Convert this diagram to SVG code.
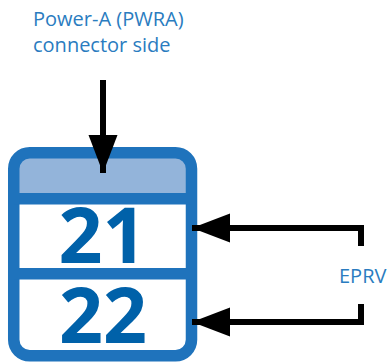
<svg xmlns="http://www.w3.org/2000/svg" width="387" height="362" viewBox="0 0 387 362">
<style>
.lbl{font-family:"Open Sans","Noto Sans",sans-serif;font-size:20px;fill:#2a7cc0}
.num{font-family:"Open Sans","Noto Sans",sans-serif;font-weight:bold;font-size:77px;fill:#0061a9;text-anchor:middle}
.ln{fill:none;stroke:#000;stroke-width:6}
.band{fill:#1f73bc}
</style>
<defs>
<marker id="ah" markerUnits="userSpaceOnUse" markerWidth="40" markerHeight="30" refX="38" refY="14.5" orient="auto">
<path d="M0,0 L38,14.5 L0,29 Z" fill="#000"/>
</marker>
</defs>
<g id="label-top">
<text class="lbl" x="33" y="26">Power-A (PWRA)</text>
<text class="lbl" x="33" y="52">connector side</text>
</g>
<g id="label-eprv">
<text class="lbl" x="339" y="283">EPRV</text>
</g>
<g id="connector-block">
<rect x="13.75" y="152.75" width="177.75" height="203" rx="16" fill="#fff"/>
<path d="M13.75,198 V168.75 a16,16 0 0 1 16,-16 H175.5 a16,16 0 0 1 16,16 V198 Z" fill="#93b4da"/>
<rect x="13.75" y="152.75" width="177.75" height="203" rx="16" fill="none" stroke="#1f73bc" stroke-width="11.5"/>
<rect class="band" x="14" y="193" width="177" height="11.5"/>
<rect class="band" x="14" y="268" width="177" height="11.5"/>
</g>
<g id="pin-21"><text class="num" x="102.5" y="263">21</text></g>
<g id="pin-22"><text class="num" x="103" y="343">22</text></g>
<g id="connectors">
<path class="ln" d="M103,80 V173" marker-end="url(#ah)"/>
<path class="ln" d="M361,246 V228 H192" marker-end="url(#ah)"/>
<path class="ln" d="M361,304 V322 H192" marker-end="url(#ah)"/>
</g>
</svg>
